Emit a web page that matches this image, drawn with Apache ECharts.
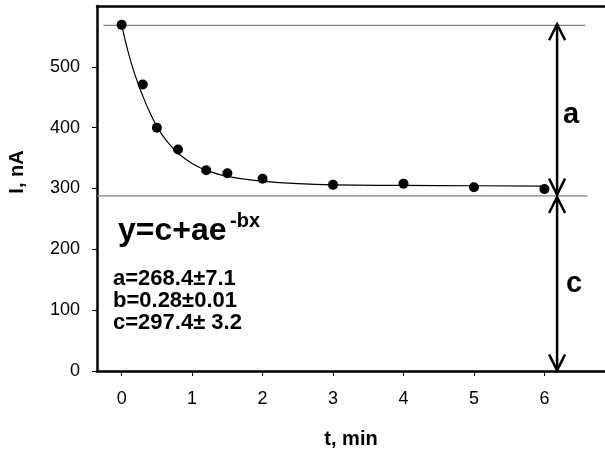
<!DOCTYPE html>
<html>
<head>
<meta charset="utf-8">
<script src="https://cdn.jsdelivr.net/npm/echarts@6/dist/echarts.min.js"></script>
<style>
  html, body { margin: 0; padding: 0; background: #fff; }
  #main { width: 605px; height: 454px; }
</style>
</head>
<body>
<div id="main"></div>
<script>
// measured points, t (min) vs I (nA)
var pointT = [0, 0.3, 0.5, 0.8, 1.2, 1.5, 2, 3, 4, 5, 6]
var pointI = [569, 471, 400, 364, 330, 325, 316, 306, 308, 302, 299]

// fitted curve
var curveT = [0, 0.1, 0.2, 0.3, 0.4, 0.5, 0.6, 0.7, 0.8, 1.0, 1.2, 1.5, 2.0, 2.5, 3.0, 4.0, 5.0, 6.0]
var curveI = [569, 521, 483, 452, 425, 402, 384, 370, 358, 341, 330, 320, 312, 308, 306, 305, 304.5, 304]

// grey reference levels
var topLevel = [[-0.26, 568], [6.58, 568]]
var baseLevel = [[-0.35, 288], [6.61, 288]]

// double arrows: [t, from, to]
var arrows = [[6.18, 570, 290], [6.18, 286, 1]]

var xTicks = [0, 1, 2, 3, 4, 5, 6]
var yTicks = [0, 100, 200, 300, 400, 500]

var FONT = 'Liberation Sans, Arial, sans-serif'

function zip (xs, ys) {
  return xs.map(function (x, i) { return [x, ys[i]] })
}

var chart = echarts.init(document.getElementById('main'))

chart.setOption({
  animation: false,
  backgroundColor: '#fff',
  grid: { left: 97, right: 0, top: 6, bottom: 80 },
  xAxis: [{
    type: 'value',
    min: -0.35,
    max: 6.86,
    name: 't, min',
    nameLocation: 'middle',
    nameGap: 58,
    nameTextStyle: { fontFamily: FONT, fontSize: 20, fontWeight: 'bold', color: '#000' },
    axisLine: { onZero: false, lineStyle: { color: '#000', width: 2.5 } },
    axisTick: { show: true, length: 5, customValues: xTicks, lineStyle: { color: '#000', width: 1 } },
    axisLabel: { customValues: xTicks, margin: 19, fontFamily: FONT, fontSize: 18, color: '#000' },
    splitLine: { show: false }
  }, {
    type: 'value',
    position: 'top',
    min: -0.35,
    max: 6.86,
    axisLine: { show: true, onZero: false, lineStyle: { color: '#000', width: 2.5 } },
    axisTick: { show: false },
    axisLabel: { show: false },
    splitLine: { show: false }
  }],
  yAxis: {
    type: 'value',
    min: 0,
    max: 600,
    axisLine: { show: true, onZero: false, lineStyle: { color: '#000', width: 2.5 } },
    axisTick: { show: true, length: 5, customValues: yTicks, lineStyle: { color: '#000', width: 1 } },
    axisLabel: { customValues: yTicks, margin: 17, fontFamily: FONT, fontSize: 18, color: '#000' },
    splitLine: { show: false }
  },
  graphic: [
    {
      type: 'text', x: 17, y: 172, rotation: Math.PI / 2,
      style: { text: 'I, nA', font: 'bold 20px ' + FONT, fill: '#000', align: 'center', verticalAlign: 'middle' }
    },
    {
      type: 'text', x: 118, y: 231,
      style: { text: 'y=c+ae', font: 'bold 32px ' + FONT, fill: '#000', align: 'left', verticalAlign: 'middle' }
    },
    {
      type: 'text', x: 230, y: 221,
      style: { text: '-bx', font: 'bold 20px ' + FONT, fill: '#000', align: 'left', verticalAlign: 'middle' }
    },
    {
      type: 'text', x: 113, y: 279,
      style: { text: 'a=268.4±7.1', font: 'bold 22px ' + FONT, fill: '#000', align: 'left', verticalAlign: 'middle' }
    },
    {
      type: 'text', x: 113, y: 301,
      style: { text: 'b=0.28±0.01', font: 'bold 22px ' + FONT, fill: '#000', align: 'left', verticalAlign: 'middle' }
    },
    {
      type: 'text', x: 113, y: 323,
      style: { text: 'c=297.4± 3.2', font: 'bold 22px ' + FONT, fill: '#000', align: 'left', verticalAlign: 'middle' }
    },
    {
      type: 'text', x: 571, y: 115,
      style: { text: 'a', font: 'bold 29px ' + FONT, fill: '#000', align: 'center', verticalAlign: 'middle' }
    },
    {
      type: 'text', x: 574, y: 284,
      style: { text: 'c', font: 'bold 29px ' + FONT, fill: '#000', align: 'center', verticalAlign: 'middle' }
    }
  ],
  series: [
    {
      type: 'line',
      data: topLevel,
      showSymbol: false,
      lineStyle: { color: '#808080', width: 1.2 },
      z: 1
    },
    {
      type: 'line',
      data: baseLevel,
      showSymbol: false,
      lineStyle: { color: '#808080', width: 1.2 },
      z: 1
    },
    {
      type: 'line',
      data: zip(curveT, curveI),
      showSymbol: false,
      smooth: 0.5,
      lineStyle: { color: '#000', width: 1.2 },
      z: 2
    },
    {
      type: 'scatter',
      data: zip(pointT, pointI),
      symbol: 'circle',
      symbolSize: 10,
      itemStyle: { color: '#000', opacity: 1 },
      z: 3
    },
    {
      type: 'custom',
      data: arrows,
      z: 4,
      renderItem: function (params, api) {
        var p1 = api.coord([api.value(0), api.value(1)])
        var p2 = api.coord([api.value(0), api.value(2)])
        var hw = 8
        var hh = 16
        var st = { stroke: '#000', lineWidth: 2.5, fill: null }
        return {
          type: 'group',
          children: [
            { type: 'line', shape: { x1: p1[0], y1: p1[1], x2: p2[0], y2: p2[1] }, style: st },
            { type: 'polyline', shape: { points: [[p1[0] - hw, p1[1] + hh], [p1[0], p1[1]], [p1[0] + hw, p1[1] + hh]] }, style: st },
            { type: 'polyline', shape: { points: [[p2[0] - hw, p2[1] - hh], [p2[0], p2[1]], [p2[0] + hw, p2[1] - hh]] }, style: st }
          ]
        }
      }
    }
  ]
})
</script>
</body>
</html>
